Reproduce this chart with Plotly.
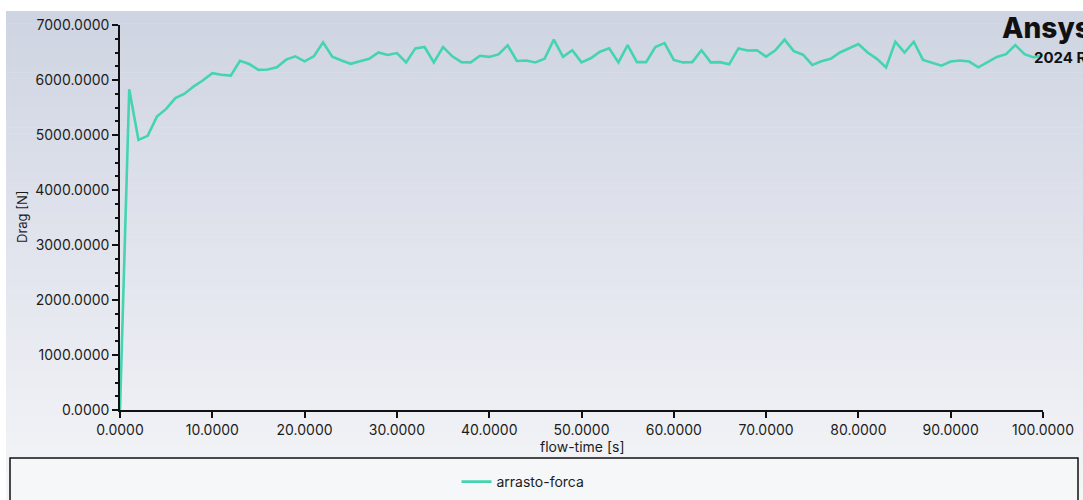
import plotly.graph_objects as go

# Drag history from the transient run (one sample per second of flow time)
flow_time = list(range(0, 101))
drag = [
    0, 5830, 4910, 4985, 5335, 5475, 5670, 5750, 5885, 5995,
    6125, 6095, 6080, 6350, 6290, 6185, 6190, 6230, 6370, 6430,
    6340, 6430, 6685, 6425, 6355, 6295, 6340, 6385, 6500, 6455,
    6490, 6320, 6575, 6600, 6320, 6600, 6430, 6325, 6320, 6440,
    6420, 6465, 6630, 6345, 6355, 6320, 6385, 6735, 6420, 6540,
    6320, 6395, 6515, 6575, 6320, 6635, 6325, 6325, 6600, 6670,
    6365, 6320, 6325, 6540, 6320, 6325, 6285, 6575, 6535, 6540,
    6425, 6540, 6735, 6525, 6460, 6275, 6340, 6385, 6500, 6575,
    6655, 6500, 6385, 6230, 6695, 6500, 6695, 6365, 6310, 6260,
    6335, 6355, 6335, 6230, 6325, 6420, 6470, 6635, 6470, 6410,
    6450,
]
series_name = "arrasto-forca"
x_ticks = [0, 10, 20, 30, 40, 50, 60, 70, 80, 90, 100]
y_ticks = [0, 1000, 2000, 3000, 4000, 5000, 6000, 7000]

W, H = 1083, 500
ML, MR, MT, MB = 120, 40, 25, 90
PW, PH = W - ML - MR, H - MT - MB
FONT = "Inter, Roboto, sans-serif"
INK = "#1c1c1c"


def px_x(p):
    return (p - ML) / PW


def px_y(p):
    return (H - MB - p) / PH


def lerp(c0, c1, t):
    return "rgb(%d,%d,%d)" % tuple(round(a + (b - a) * t) for a, b in zip(c0, c1))


shapes = []
# vertical background gradient behind the whole chart
top_c, bot_c = (207, 212, 226), (244, 245, 248)
g_top, g_bot = 11, 500
n_bands = 80
for i in range(n_bands):
    y0 = g_top + (g_bot - g_top) * i / n_bands
    y1 = g_top + (g_bot - g_top) * (i + 1) / n_bands + 0.6
    shapes.append(dict(
        type="rect", xref="paper", yref="paper", layer="below",
        x0=px_x(6), x1=px_x(W + 5), y0=px_y(y1), y1=px_y(y0),
        fillcolor=lerp(top_c, bot_c, i / (n_bands - 1)), line=dict(width=0),
    ))
# legend frame
shapes.append(dict(
    type="rect", xref="paper", yref="paper", layer="below",
    x0=px_x(10), x1=px_x(1078), y0=px_y(506), y1=px_y(458),
    fillcolor="#f6f7f9", line=dict(color="#111111", width=1.5),
))

fig = go.Figure()
fig.add_trace(go.Scatter(
    x=flow_time, y=drag, mode="lines", name=series_name,
    line=dict(color="#44d4b0", width=2.6),
    cliponaxis=False,
))

tick_font = dict(family=FONT, size=14, color=INK)

fig.update_layout(
    width=W, height=H,
    margin=dict(l=ML, r=MR, t=MT, b=MB, autoexpand=False),
    paper_bgcolor="white",
    plot_bgcolor="rgba(0,0,0,0)",
    shapes=shapes,
    showlegend=True,
    legend=dict(
        orientation="h", x=px_x(523), y=px_y(482),
        xanchor="center", yanchor="middle",
        bgcolor="rgba(0,0,0,0)",
        font=dict(family=FONT, size=14, color=INK),
        itemwidth=30,
    ),
    xaxis=dict(
        range=[0, 100], tickvals=x_ticks, tickformat=".4f",
        showgrid=False, zeroline=False,
        showline=True, linecolor="#111111", linewidth=1.5,
        ticks="outside", ticklen=6, tickwidth=1.5, tickcolor="#111111",
        tickfont=tick_font,
    ),
    yaxis=dict(
        range=[0, 7000], tickvals=y_ticks, tickformat=".4f",
        showgrid=False, zeroline=False,
        showline=True, linecolor="#111111", linewidth=1.5,
        ticks="outside", ticklen=6, tickwidth=1.5, tickcolor="#111111",
        tickfont=tick_font,
        minor=dict(dtick=250, ticks="outside", ticklen=3, tickwidth=1.5,
                   tickcolor="#111111", showgrid=False),
    ),
    annotations=[
        dict(text="flow-time [s]", xref="paper", yref="paper",
             x=px_x(582), y=px_y(446), xanchor="center", yanchor="middle",
             showarrow=False,
             font=dict(family=FONT, size=14, color=INK)),
        dict(text="Drag [N]", xref="paper", yref="paper", textangle=-90,
             x=px_x(22), y=px_y(217), xanchor="center", yanchor="middle",
             showarrow=False,
             font=dict(family=FONT, size=13, color=INK)),
        dict(text="Ansys", xref="paper", yref="paper",
             x=px_x(1000), y=px_y(28), xanchor="left", yanchor="middle",
             showarrow=False,
             font=dict(family=FONT, size=28, color="#111111", weight=800)),
        dict(text="2024 R1", xref="paper", yref="paper",
             x=px_x(1032), y=px_y(57), xanchor="left", yanchor="middle",
             showarrow=False,
             font=dict(family=FONT, size=15, color="#111111", weight=700)),
    ],
)

fig.write_html("out.html")
